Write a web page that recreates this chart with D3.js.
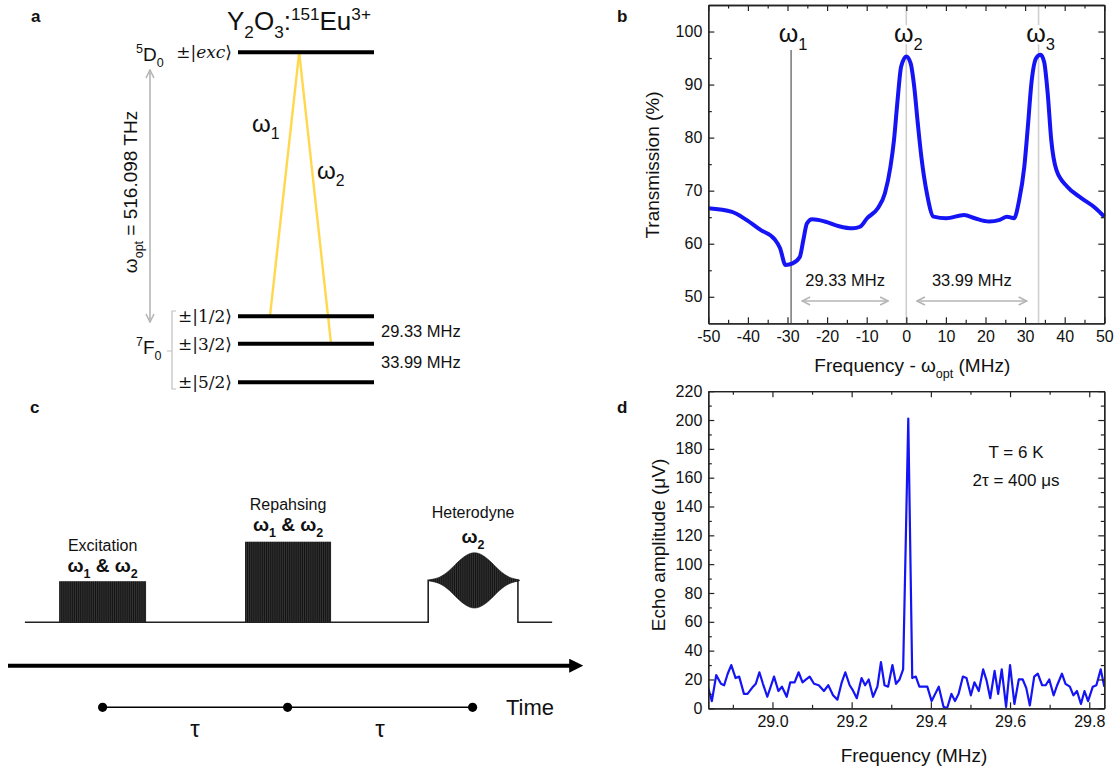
<!DOCTYPE html>
<html>
<head>
<meta charset="utf-8">
<script src="https://d3js.org/d3.v7.min.js"></script>
<style>
  body { margin: 0; background: #fff; }
  svg text { font-family: Arial, "Liberation Sans", sans-serif; fill: #111; }
  .serif { font-family: "DejaVu Serif", "Liberation Serif", serif; }
</style>
</head>
<body>
<div id="fig"></div>
<script>
// ---------- data : panel a (energy levels, schematic positions 0..1)
const levelNames = ["exc", "1/2", "3/2", "5/2"];
const levelPos = [0, 0.8, 0.883, 1.0];
const splitLabels = ["29.33 MHz", "33.99 MHz"];

// ---------- data : panel b (transmission spectrum)
const transFreq = [-50,-44,-40.4,-36.8,-33.2,-31.9,-30.5,-28.7,-26.9,-26,-25.1,-23.8,-20.6,-17,-13.5,-11.7,-9.9,-7.2,-5.4,-4,-3.1,-2.2,-1.3,0,1.1,2,2.9,3.8,5.2,6.9,10.1,14.6,17.3,20.9,23.6,25.4,27.2,28.5,29.8,30.7,31.6,32.8,33.9,34.8,35.7,36.6,37.9,40.6,44.2,47.8,50];
const transVal = [66.7,66.0,64.5,62.6,60.8,59.2,56.0,56.3,57.5,60.7,63.8,64.6,64.2,63.3,62.9,63.2,64.8,66.7,69.5,74.5,79.6,87.1,93.4,95.3,94.0,89.6,82.7,76.4,69.5,65.1,64.8,65.4,64.8,64.2,64.5,65.1,64.8,68.2,74.5,82.1,90.3,95.0,95.6,94.3,88.4,79.6,73.9,70.8,68.6,66.7,65.1];
const omegaFreq = [-29.1, 0, 33.4];
const spanFrom = [-26.3, 2.7];
const spanTo = [-4.6, 30.4];
const spanText = ["29.33 MHz", "33.99 MHz"];

// ---------- data : panel c (pulse sequence, time in units of tau)
const pulseNames = ["Excitation", "Repahsing", "Heterodyne"];
const pulseStart = [-0.235, 0.77, 1.76];
const pulseEnd = [0.235, 1.235, 2.245];
const pulseAmp = [0.51, 1.0, 0.52];
const hetCenter = 2.01;
const hetOffset = [-0.243,-0.216,-0.189,-0.162,-0.135,-0.108,-0.081,-0.054,-0.027,0,0.027,0.054,0.081,0.108,0.135,0.162,0.189,0.216,0.243];
const hetEnv = [0.006,0.019,0.037,0.074,0.124,0.186,0.248,0.298,0.335,0.347,0.335,0.298,0.248,0.186,0.124,0.074,0.037,0.019,0.006];
const tauMarks = [0, 1, 2];

// ---------- data : panel d (echo spectrum)
const echoFreq = [28.836,28.847,28.858,28.870,28.878,28.887,28.896,28.907,28.916,28.928,28.937,28.951,28.958,28.967,28.976,28.987,29.004,29.015,29.024,29.036,29.045,29.056,29.066,29.076,29.085,29.094,29.105,29.117,29.130,29.141,29.153,29.164,29.175,29.184,29.195,29.202,29.213,29.225,29.234,29.243,29.254,29.265,29.274,29.283,29.292,29.303,29.312,29.321,29.330,29.343,29.353,29.362,29.371,29.382,29.391,29.402,29.411,29.420,29.432,29.441,29.452,29.461,29.470,29.481,29.490,29.501,29.510,29.521,29.532,29.541,29.550,29.561,29.570,29.579,29.590,29.600,29.611,29.622,29.632,29.641,29.650,29.661,29.670,29.681,29.690,29.699,29.710,29.719,29.731,29.740,29.751,29.760,29.769,29.779,29.788,29.797,29.809,29.818,29.829,29.838];
const echoAmp = [16,5,23,17,16,24,30,21,22,10,10,15,17,25,17,8,22,12,15,8,18,18,25,18,20,22,17,16,12,16,9,6,18,25,16,13,7,21,16,20,8,15,32,16,15,30,17,20,27,201,21,22,15,15,15,5,10,15,1,0,10,5,10,22,21,9,18,12,27,19,7,26,10,27,1,30,3,20,20,14,2,22,24,16,16,20,9,16,24,17,15,9,12,3,12,5,15,16,27,15];

const W = 1119, H = 769;
const svg = d3.select("#fig").append("svg").attr("width", W).attr("height", H);
const defs = svg.append("defs");

// open chevron arrow head (grey)
defs.append("marker").attr("id", "chev").attr("viewBox", "0 0 10 10")
  .attr("refX", 9).attr("refY", 5).attr("markerWidth", 10).attr("markerHeight", 10)
  .attr("markerUnits", "userSpaceOnUse").attr("orient", "auto-start-reverse")
  .append("path").attr("d", "M1,1 L9,5 L1,9").attr("fill", "none")
  .attr("stroke", "#b5b5b5").attr("stroke-width", 1.6);
defs.append("marker").attr("id", "blackhead").attr("viewBox", "0 0 10 10")
  .attr("refX", 2).attr("refY", 5).attr("markerWidth", 14).attr("markerHeight", 14)
  .attr("markerUnits", "userSpaceOnUse").attr("orient", "auto")
  .append("path").attr("d", "M0,0 L10,5 L0,10 Z").attr("fill", "#000");
// dense carrier oscillation drawn as a stripe pattern
const pat = defs.append("pattern").attr("id", "osc").attr("patternUnits", "userSpaceOnUse")
  .attr("width", 1.9).attr("height", 20);
pat.append("rect").attr("width", 1.9).attr("height", 20).attr("fill", "#121212");
pat.append("rect").attr("x", 1.3).attr("width", 0.35).attr("height", 20).attr("fill", "#707070");

const minusFmt = d => String(d);

// text with sub / superscripts
function rich(sel, x, y, parts, size, opt = {}) {
  const t = sel.append("text").attr("x", x).attr("y", y).attr("font-size", size)
    .attr("text-anchor", opt.anchor || "start");
  if (opt.cls) t.attr("class", opt.cls);
  if (opt.weight) t.attr("font-weight", opt.weight);
  if (opt.transform) t.attr("transform", opt.transform);
  let cur = 0;
  parts.forEach(p => {
    const s = typeof p === "string" ? p : p[0];
    const k = typeof p === "string" ? "" : p[1];
    const target = k === "sub" ? size * 0.3 : k === "sup" ? -size * 0.4 : 0;
    const ts = t.append("tspan").text(s).attr("dy", target - cur);
    if (k === "sub" || k === "sup") ts.attr("font-size", size * 0.66);
    if (k === "i") ts.attr("font-style", "italic");
    cur = target;
  });
  return t;
}
function panelLetter(x, y, s) {
  svg.append("text").attr("x", x).attr("y", y).attr("font-size", 17)
    .attr("font-weight", "bold").text(s);
}

// ================= panel a =================
const gA = svg.append("g");
const xA = d3.scaleLinear([0, 1], [238, 374]);
const yA = d3.scaleLinear([0, 1], [52.3, 382.3]);
panelLetter(31, 22, "a");
rich(gA, 227, 30, ["Y", ["2", "sub"], "O", ["3", "sub"], ":", ["151", "sup"], "Eu", ["3+", "sup"]], 26);

// yellow transitions
const apex = 0.45;
[[0.235, levelPos[1]], [0.684, levelPos[2]]].forEach(([xe, le]) => {
  gA.append("line").attr("x1", xA(apex)).attr("y1", yA(0)).attr("x2", xA(xe)).attr("y2", yA(le))
    .attr("stroke", "#ffd84d").attr("stroke-width", 2.4);
});
gA.selectAll("line.lvl").data(levelPos).join("line").attr("class", "lvl")
  .attr("x1", xA(0)).attr("x2", xA(1)).attr("y1", d => yA(d)).attr("y2", d => yA(d))
  .attr("stroke", "#000").attr("stroke-width", 4);
levelNames.forEach((n, i) => {
  const t = gA.append("text").attr("class", "serif").attr("x", 232).attr("y", yA(levelPos[i]) + 6)
    .attr("text-anchor", "end").attr("font-size", 17);
  t.append("tspan").text("\u00b1|");
  const m = t.append("tspan").text(n);
  if (n === "exc") m.attr("font-style", "italic");
  t.append("tspan").text("\u27e9");
});
rich(gA, 136, 61, [["5", "sup"], "D", ["0", "sub"]], 19);
rich(gA, 136, 354, [["7", "sup"], "F", ["0", "sub"]], 19);
// optical transition arrow
gA.append("line").attr("x1", 150).attr("x2", 150).attr("y1", 70).attr("y2", 322)
  .attr("stroke", "#b0b0b0").attr("stroke-width", 1.5)
  .attr("marker-start", "url(#chev)").attr("marker-end", "url(#chev)");
rich(gA, 0, 0, ["\u03c9", ["opt", "sub"], " = 516.098 THz"], 19,
  { anchor: "middle", transform: "translate(137,192) rotate(-90)" });
// ground state bracket
gA.append("path").attr("d", "M176,311 H172 V389 H176 M172,351 H167")
  .attr("fill", "none").attr("stroke", "#c0c0c0").attr("stroke-width", 1.2);
rich(gA, 252, 132, ["\u03c9", ["1", "sub"]], 24);
rich(gA, 317, 179, ["\u03c9", ["2", "sub"]], 24);
gA.append("text").attr("x", 381).attr("y", 337).attr("font-size", 16.5).text(splitLabels[0]);
gA.append("text").attr("x", 381).attr("y", 368).attr("font-size", 16.5).text(splitLabels[1]);

// ================= panel b =================
const gB = svg.append("g");
const xB = d3.scaleLinear([-50, 50], [708.3, 1104.3]);
const yB = d3.scaleLinear([45, 105], [323.3, 5]);
panelLetter(617, 22, "b");
function frameAxes(g, x, y, xMaj, xMin, yMaj, yMin, xFmt, yFmt) {
  const [x0, x1] = x.range(), [y0, y1] = y.range();
  const ax = (a) => a.tickSizeOuter(0);
  g.append("g").attr("transform", `translate(0,${y0})`)
    .call(ax(d3.axisBottom(x).tickValues(xMin).tickSize(-3.5).tickFormat("")));
  g.append("g").attr("transform", `translate(0,${y0})`)
    .call(ax(d3.axisBottom(x).tickValues(xMaj).tickSize(-6).tickPadding(7).tickFormat(xFmt)));
  g.append("g").attr("transform", `translate(0,${y1})`)
    .call(ax(d3.axisTop(x).tickValues(xMin).tickSize(-3.5).tickFormat("")));
  g.append("g").attr("transform", `translate(0,${y1})`)
    .call(ax(d3.axisTop(x).tickValues(xMaj).tickSize(-6).tickFormat("")));
  g.append("g").attr("transform", `translate(${x0},0)`)
    .call(ax(d3.axisLeft(y).tickValues(yMin).tickSize(-3.5).tickFormat("")));
  g.append("g").attr("transform", `translate(${x0},0)`)
    .call(ax(d3.axisLeft(y).tickValues(yMaj).tickSize(-6).tickPadding(6).tickFormat(yFmt)));
  g.append("g").attr("transform", `translate(${x1},0)`)
    .call(ax(d3.axisRight(y).tickValues(yMin).tickSize(-3.5).tickFormat("")));
  g.append("g").attr("transform", `translate(${x1},0)`)
    .call(ax(d3.axisRight(y).tickValues(yMaj).tickSize(-6).tickFormat("")));
  g.selectAll(".tick line").attr("stroke", "#222").attr("stroke-width", 1.2);
  g.selectAll(".domain").attr("stroke", "#222").attr("stroke-width", 1.3);
  g.selectAll(".tick text").attr("font-size", 16).attr("fill", "#111")
    .style("font-family", "Arial, 'Liberation Sans', sans-serif");
}
// reference lines
gB.append("line").attr("x1", xB(omegaFreq[0])).attr("x2", xB(omegaFreq[0]))
  .attr("y1", 50).attr("y2", yB(45)).attr("stroke", "#333").attr("stroke-width", 1);
[1, 2].forEach(i => gB.append("line").attr("x1", xB(omegaFreq[i])).attr("x2", xB(omegaFreq[i]))
  .attr("y1", yB(105)).attr("y2", yB(45)).attr("stroke", "#cfcfcf").attr("stroke-width", 1.6));
gB.append("path").datum(transFreq.map((f, i) => [f, transVal[i]]))
  .attr("fill", "none").attr("stroke", "#1414f5").attr("stroke-width", 4)
  .attr("stroke-linejoin", "round")
  .attr("d", d3.line().x(d => xB(d[0])).y(d => yB(d[1])).curve(d3.curveMonotoneX));
frameAxes(gB, xB, yB, d3.range(-50, 51, 10), d3.range(-45, 50, 10),
  d3.range(50, 101, 10), d3.range(55, 105, 10), minusFmt, minusFmt);
["1", "2", "3"].forEach((s, i) => {
  rich(gB, xB(omegaFreq[i]) + 2, 42, ["\u03c9", [s, "sub"]], 25, { anchor: "middle" })
    .attr("stroke", "#fff").attr("stroke-width", 5).attr("paint-order", "stroke");
});
spanFrom.forEach((f, i) => {
  gB.append("line").attr("x1", xB(f)).attr("x2", xB(spanTo[i])).attr("y1", 301).attr("y2", 301)
    .attr("stroke", "#b5b5b5").attr("stroke-width", 1.6)
    .attr("marker-start", "url(#chev)").attr("marker-end", "url(#chev)");
  gB.append("text").attr("x", (xB(f) + xB(spanTo[i])) / 2).attr("y", 286)
    .attr("text-anchor", "middle").attr("font-size", 16.5).text(spanText[i]);
});
rich(gB, 0, 0, ["Transmission (%)"], 19, { anchor: "middle", transform: "translate(659,165) rotate(-90)" });
rich(gB, xB(0) + 6, 372, ["Frequency - \u03c9", ["opt", "sub"], " (MHz)"], 19, { anchor: "middle" });

// ================= panel c =================
const gC = svg.append("g");
const xC = d3.scaleLinear([0, 2], [102.6, 472.6]);
const yC = d3.scaleLinear([0, 1], [622.3, 541.7]);
panelLetter(30, 413, "c");
// baseline with the heterodyne window step
const hetIdx = 2;
gC.append("path").attr("fill", "none").attr("stroke", "#222").attr("stroke-width", 1.6)
  .attr("d", d3.line()([[xC(-0.42), yC(0)], [xC(pulseStart[hetIdx]), yC(0)], [xC(pulseStart[hetIdx]), yC(pulseAmp[hetIdx])],
    [xC(pulseEnd[hetIdx]), yC(pulseAmp[hetIdx])], [xC(pulseEnd[hetIdx]), yC(0)], [xC(2.43), yC(0)]]));
[0, 1].forEach(i => {
  gC.append("rect").attr("x", xC(pulseStart[i])).attr("width", xC(pulseEnd[i]) - xC(pulseStart[i]))
    .attr("y", yC(pulseAmp[i])).attr("height", yC(0) - yC(pulseAmp[i])).attr("fill", "url(#osc)");
});
const env = d3.area().x(d => xC(hetCenter + d[0]))
  .y0(d => yC(pulseAmp[hetIdx] - d[1])).y1(d => yC(pulseAmp[hetIdx] + d[1])).curve(d3.curveBasis);
gC.append("path").datum(hetOffset.map((o, i) => [o, hetEnv[i]])).attr("d", env)
  .attr("fill", "url(#osc)").attr("stroke", "#151515").attr("stroke-width", 0.6);
// pulse labels
const labelY = [[546, 566], [505, 525], [513, 537]];
const omegaBoth = ["\u03c9", ["1", "sub"], " & \u03c9", ["2", "sub"]];
const labelOm = [omegaBoth, omegaBoth, ["\u03c9", ["2", "sub"]]];
pulseNames.forEach((n, i) => {
  const cx = (xC(pulseStart[i]) + xC(pulseEnd[i])) / 2;
  gC.append("text").attr("x", cx).attr("y", labelY[i][0] + 5).attr("text-anchor", "middle")
    .attr("font-size", 16).text(n);
  rich(gC, cx, labelY[i][1] + 6, labelOm[i], 19, { anchor: "middle", weight: "bold" });
});
// time axis
gC.append("line").attr("x1", 8).attr("x2", 572).attr("y1", 665.7).attr("y2", 665.7)
  .attr("stroke", "#000").attr("stroke-width", 4).attr("marker-end", "url(#blackhead)");
gC.append("line").attr("x1", xC(0)).attr("x2", xC(2)).attr("y1", 707.3).attr("y2", 707.3)
  .attr("stroke", "#000").attr("stroke-width", 1.4);
gC.selectAll("circle").data(tauMarks).join("circle")
  .attr("cx", d => xC(d)).attr("cy", 707.3).attr("r", 4.6).attr("fill", "#000");
[0.5, 1.5].forEach(t => gC.append("text").attr("x", xC(t)).attr("y", 737)
  .attr("text-anchor", "middle").attr("font-size", 24).text("\u03c4"));
gC.append("text").attr("x", 506).attr("y", 715).attr("font-size", 22).text("Time");

// ================= panel d =================
const gD = svg.append("g");
const xD = d3.scaleLinear([28.838, 29.838], [708.3, 1104.3]);
const yD = d3.scaleLinear([0, 220], [708.3, 391.2]);
panelLetter(617, 413, "d");
gD.append("clipPath").attr("id", "clipD").append("rect")
  .attr("x", 708.3).attr("y", 391.2).attr("width", 396).attr("height", 317.1);
gD.append("path").datum(echoFreq.map((f, i) => [f, echoAmp[i]]))
  .attr("clip-path", "url(#clipD)")
  .attr("fill", "none").attr("stroke", "#1414f5").attr("stroke-width", 2.2)
  .attr("stroke-linejoin", "round")
  .attr("d", d3.line().x(d => xD(d[0])).y(d => yD(d[1])));
frameAxes(gD, xD, yD, [29.0, 29.2, 29.4, 29.6, 29.8], [28.9, 29.1, 29.3, 29.5, 29.7],
  d3.range(0, 221, 20), d3.range(10, 220, 20), d3.format(".1f"), minusFmt);
gD.append("text").attr("x", 1016).attr("y", 458).attr("text-anchor", "middle")
  .attr("font-size", 17).text("T = 6 K");
gD.append("text").attr("x", 1016).attr("y", 486).attr("text-anchor", "middle")
  .attr("font-size", 17).text("2\u03c4 = 400 \u03bcs");
rich(gD, 0, 0, ["Echo amplitude (\u03bcV)"], 19, { anchor: "middle", transform: "translate(665,545) rotate(-90)" });
gD.append("text").attr("x", 914).attr("y", 762).attr("text-anchor", "middle")
  .attr("font-size", 19).text("Frequency (MHz)");
</script>
</body>
</html>
